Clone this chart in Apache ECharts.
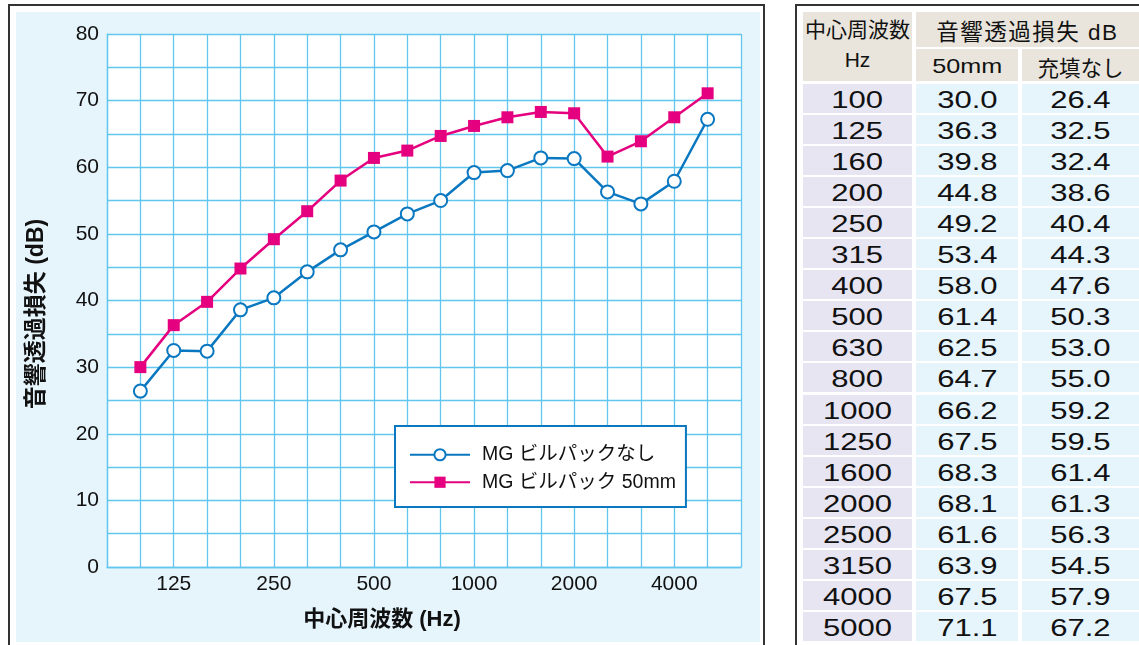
<!DOCTYPE html>
<html><head><meta charset="utf-8">
<script src="https://cdn.jsdelivr.net/npm/echarts@6/dist/echarts.min.js"></script>
<style>
html,body{margin:0;padding:0;background:#fff;width:1139px;height:645px;overflow:hidden;font-family:"Liberation Sans","Noto Sans CJK JP",sans-serif;}
#frame{position:absolute;left:8px;top:4px;width:757px;height:660px;border:2px solid #333;box-sizing:border-box;}
#bg{position:absolute;left:16px;top:12px;width:744px;height:630px;background:#e6f4fc;}
#chart{position:absolute;left:0;top:0;width:770px;height:645px;}
#tframe{position:absolute;left:795px;top:4px;width:360px;height:660px;border:2px solid #333;box-sizing:border-box;}
.c{position:absolute;display:flex;align-items:center;justify-content:center;color:#111;box-sizing:border-box;}
.w{display:inline-block;transform:scaleX(1.35);}
</style></head>
<body>
<div id="frame"></div><div id="bg"></div><div id="chart"></div>
<div id="tframe"></div><div id="table"></div>
<script>
// ---- data ----
var freqs = ['100','125','160','200','250','315','400','500','630','800','1000','1250','1600','2000','2500','3150','4000','5000'];
var shownFreqs = ['125','250','500','1000','2000','4000'];
var mm50 = [30.0,36.3,39.8,44.8,49.2,53.4,58.0,61.4,62.5,64.7,66.2,67.5,68.3,68.1,61.6,63.9,67.5,71.1];
var none = [26.4,32.5,32.4,38.6,40.4,44.3,47.6,50.3,53.0,55.0,59.2,59.5,61.4,61.3,56.3,54.5,57.9,67.2];
var seriesNames = ['MG ビルパックなし','MG ビルパック 50mm'];
var xTitle = '中心周波数 (Hz)';
var yTitle = '音響透過損失 (dB)';
var headTitle = '中心周波数';
var headUnit = 'Hz';
var headGroup = '音響透過損失 dB';
var headCols = ['50mm','充填なし'];

var font = '"Liberation Sans","Noto Sans CJK JP",sans-serif';
var gridColor = '#62c6ee';
var chart = echarts.init(document.getElementById('chart'), null, {renderer:'canvas'});
function pts(arr){ return arr.map(function(v,i){ return [i+1, v]; }); }
chart.setOption({
  animation:false,
  backgroundColor:'transparent',
  grid:{left:107, right:29, top:34, bottom:78, show:true, backgroundColor:'#fff', borderWidth:0},
  legend:{
    orient:'vertical', left:395, top:426, padding:[19,10,15,14], itemGap:8,
    backgroundColor:'#fff', borderColor:'#0a78c0', borderWidth:2,
    itemWidth:60, itemHeight:14,
    textStyle:{fontFamily:font, fontSize:19.5, color:'#111', padding:[0,0,0,7]},
    data:[seriesNames[0], seriesNames[1]]
  },
  graphic:[
    {type:'text', x:382, y:620, style:{text:xTitle, align:'center', verticalAlign:'middle',
      font:'bold 22px '+font, fill:'#111'}},
    {type:'text', x:37, y:314, rotation:Math.PI/2, style:{text:yTitle, align:'center', verticalAlign:'middle',
      font:'bold 23px '+font, fill:'#111'}}
  ],
  xAxis:{
    type:'value', min:0, max:19, interval:1,
    axisLine:{show:true, lineStyle:{color:gridColor, width:1.3}},
    axisTick:{show:false},
    axisLabel:{fontFamily:font, fontSize:21, color:'#111', margin:7,
      formatter:function(v){ var f = freqs[v-1]; return (f && shownFreqs.indexOf(f)>=0) ? f : ''; }},
    splitLine:{show:true, lineStyle:{color:gridColor, width:1.3}}
  },
  yAxis:{
    type:'value', min:0, max:80, interval:5,
    axisLine:{show:true, lineStyle:{color:gridColor, width:1.3}},
    axisTick:{show:false},
    axisLabel:{fontFamily:font, fontSize:21, color:'#111', margin:8,
      formatter:function(v){ return v%10===0 ? String(v) : ''; }},
    splitLine:{show:true, lineStyle:{color:gridColor, width:1.3}}
  },
  series:[
    {name:seriesNames[0], type:'line', data:pts(none),
     lineStyle:{color:'#0a78c0', width:2.5}, itemStyle:{color:'#fff', borderColor:'#0a78c0', borderWidth:2},
     symbol:'circle', symbolSize:13, showAllSymbol:true},
    {name:seriesNames[1], type:'line', data:pts(mm50),
     lineStyle:{color:'#e4007f', width:2.5}, itemStyle:{color:'#e4007f'},
     symbol:'rect', symbolSize:12, showAllSymbol:true}
  ]
});

// ---- table ----
var t = document.getElementById('table');
function cell(x,y,w,h,bg,html,fs,pt){
  var d=document.createElement('div'); d.className='c';
  d.style.left=x+'px'; d.style.top=y+'px'; d.style.width=w+'px'; d.style.height=h+'px';
  d.style.paddingTop=(pt||0)+'px';
  d.style.background=bg; d.style.fontSize=(fs||22)+'px'; d.innerHTML=html; t.appendChild(d);
}
var hdr='#e9e5dc';
cell(803,12,109,69,hdr,'<div style="text-align:center;line-height:30px;margin-top:-4px">'+headTitle+'<br>'+headUnit+'</div>',21);
cell(916,12,223,35,hdr,'<span style="letter-spacing:1.5px">'+headGroup+'</span>',22.5);
cell(916,49,102,32,hdr,'<span class="w" style="transform:scaleX(1.2)">'+headCols[0]+'</span>',21,2);
cell(1022,49,117,32,hdr,headCols[1],21.5,2);
var y0=84, pitch=31.05, rh=29;
for(var i=0;i<freqs.length;i++){
  var y=Math.round(y0+i*pitch);
  cell(803,y,109,rh,'#e7e5f2','<span class="w">'+freqs[i]+'</span>',23,4);
  cell(916,y,102,rh,'#e6f4fc','<span class="w">'+mm50[i].toFixed(1)+'</span>',23,4);
  cell(1022,y,117,rh,'#e6f4fc','<span class="w">'+none[i].toFixed(1)+'</span>',23,4);
}
</script>
</body></html>
